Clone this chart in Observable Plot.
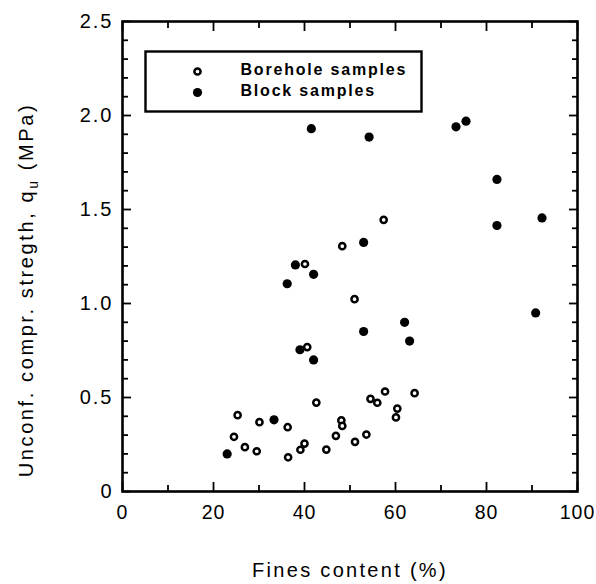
<!DOCTYPE html>
<html><head><meta charset="utf-8">
<script src="https://cdn.jsdelivr.net/npm/d3@7"></script>
<script src="https://cdn.jsdelivr.net/npm/@observablehq/plot@0.6"></script>
<style>
body{margin:0;background:#fff;}
#chart{width:596px;height:584px;}
</style>
</head><body>
<div id="chart"></div>
<script>
// Fines content (%) and unconfined compressive strength qu (MPa)
const boreholeFines = [57.4, 48.3, 40.1, 51.0, 40.6, 57.7, 64.2, 42.6, 54.5, 56.0, 60.4, 60.1, 25.3, 30.1, 36.3, 48.1, 48.3, 24.5, 46.9, 53.6, 51.1, 26.9, 29.5, 36.4, 39.1, 40.0, 44.8];
const boreholeQu    = [1.445, 1.305, 1.21, 1.023, 0.768, 0.532, 0.523, 0.473, 0.493, 0.472, 0.441, 0.394, 0.406, 0.369, 0.342, 0.378, 0.349, 0.291, 0.296, 0.303, 0.264, 0.236, 0.214, 0.182, 0.222, 0.255, 0.223];
const blockFines = [41.5, 54.2, 73.3, 75.5, 82.3, 82.3, 92.2, 53.0, 38.0, 42.0, 36.2, 90.8, 62.0, 53.0, 63.1, 39.0, 42.0, 33.3, 23.0];
const blockQu    = [1.93, 1.885, 1.94, 1.97, 1.66, 1.415, 1.455, 1.325, 1.205, 1.155, 1.105, 0.95, 0.90, 0.851, 0.80, 0.754, 0.70, 0.381, 0.20];

const xMajorTicks = [0, 20, 40, 60, 80, 100];
const xMinorTicks = [10, 30, 50, 70, 90];
const yMajorTicks = [0, 0.5, 1.0, 1.5, 2.0, 2.5];
const yMinorTicks = [0.1,0.2,0.3,0.4,0.6,0.7,0.8,0.9,1.1,1.2,1.3,1.4,1.6,1.7,1.8,1.9,2.1,2.2,2.3,2.4];
const seriesNames = ["Borehole samples", "Block samples"];
const xTitle = "Fines content (%)";
const yTitleParts = ["Unconf. compr. stregth, q", "u", " (MPa)"];

const borehole = boreholeFines.map((f, i) => ({fines: f, qu: boreholeQu[i]}));
const block = blockFines.map((f, i) => ({fines: f, qu: blockQu[i]}));

const FONT = '"Liberation Sans", Arial, Helvetica, sans-serif';
const blank = () => "";

const plot = Plot.plot({
  width: 596,
  height: 584,
  marginLeft: 122,
  marginRight: 19,
  marginTop: 21,
  marginBottom: 93,
  style: {fontFamily: FONT, fontSize: "20px", color: "#000", background: "#fff"},
  x: {domain: [0, 100]},
  y: {domain: [0, 2.5]},
  marks: [
    // tick labels
    Plot.axisX(xMajorTicks, {anchor: "bottom", tickSize: 0, tickPadding: 14, label: null, fontSize: 19.5}),
    Plot.axisY(yMajorTicks, {anchor: "left", tickSize: 0, tickPadding: 9, label: null, fontSize: 20,
      tickFormat: d => d === 0 ? "0" : d.toFixed(1)}),
    // inward ticks on all four sides
    Plot.axisX(xMajorTicks, {anchor: "bottom", tickSize: -9, tickFormat: blank, label: null, strokeWidth: 1.8}),
    Plot.axisX(xMinorTicks, {anchor: "bottom", tickSize: -6, tickFormat: blank, label: null, strokeWidth: 1.8}),
    Plot.axisX(xMajorTicks, {anchor: "top", tickSize: -9, tickFormat: blank, label: null, strokeWidth: 1.8}),
    Plot.axisX(xMinorTicks, {anchor: "top", tickSize: -6, tickFormat: blank, label: null, strokeWidth: 1.8}),
    Plot.axisY(yMajorTicks, {anchor: "left", tickSize: -9, tickFormat: blank, label: null, strokeWidth: 1.8}),
    Plot.axisY(yMinorTicks, {anchor: "left", tickSize: -6, tickFormat: blank, label: null, strokeWidth: 1.8}),
    Plot.axisY(yMajorTicks, {anchor: "right", tickSize: -9, tickFormat: blank, label: null, strokeWidth: 1.8}),
    Plot.axisY(yMinorTicks, {anchor: "right", tickSize: -6, tickFormat: blank, label: null, strokeWidth: 1.8}),
    Plot.frame({stroke: "#000", strokeWidth: 2.6}),
    // data
    Plot.dot(block, {x: "fines", y: "qu", r: 4.6, fill: "#000", stroke: "none"}),
    Plot.dot(borehole, {x: "fines", y: "qu", r: 3.1, fill: "#fff", stroke: "#000", strokeWidth: 2.5}),
    // legend
    Plot.frame({stroke: "#000", strokeWidth: 2.4, insetLeft: 23, insetTop: 30, insetRight: 156, insetBottom: 380}),
    Plot.dot([seriesNames[0]], {frameAnchor: "top-left", dx: 75, dy: 50, r: 3.1, fill: "#fff", stroke: "#000", strokeWidth: 2.5}),
    Plot.dot([seriesNames[1]], {frameAnchor: "top-left", dx: 75, dy: 71, r: 4.6, fill: "#000", stroke: "none"}),
    Plot.text([seriesNames[0]], {frameAnchor: "top-left", text: d => d, dx: 118, dy: 48, textAnchor: "start",
      lineAnchor: "middle", fontWeight: "bold", fontSize: 16}),
    Plot.text([seriesNames[1]], {frameAnchor: "top-left", text: d => d, dx: 118, dy: 69, textAnchor: "start",
      lineAnchor: "middle", fontWeight: "bold", fontSize: 16}),
    // x title
    Plot.text([xTitle], {frameAnchor: "bottom", text: d => d, dy: 85, fontSize: 20})
  ]
});

document.getElementById("chart").appendChild(plot);

const svg = d3.select(plot);
svg.selectAll("text").filter(function() { return seriesNames.includes(this.textContent); })
  .attr("letter-spacing", "1.8px");
svg.selectAll("text").filter(function() { return this.textContent === xTitle; })
  .attr("letter-spacing", "2.3px");
svg.selectAll('g[aria-label="y-axis tick label"] text')
  .filter(function() { return this.textContent !== ""; })
  .attr("letter-spacing", "2px");
svg.selectAll('g[aria-label="x-axis tick label"] text')
  .filter(function() { return this.textContent !== ""; })
  .attr("letter-spacing", "1px");

// y title with subscript
const yt = svg.append("text")
  .attr("transform", "translate(28, 290) rotate(-90)")
  .attr("text-anchor", "middle")
  .attr("dominant-baseline", "middle")
  .attr("font-family", FONT)
  .attr("font-size", 20)
  .attr("letter-spacing", "2.6px")
  .attr("fill", "#000");
yt.append("tspan").text(yTitleParts[0]);
yt.append("tspan").attr("font-size", 14).attr("dy", 6).text(yTitleParts[1]);
yt.append("tspan").attr("dy", -6).text(yTitleParts[2]);
</script>
</body></html>
